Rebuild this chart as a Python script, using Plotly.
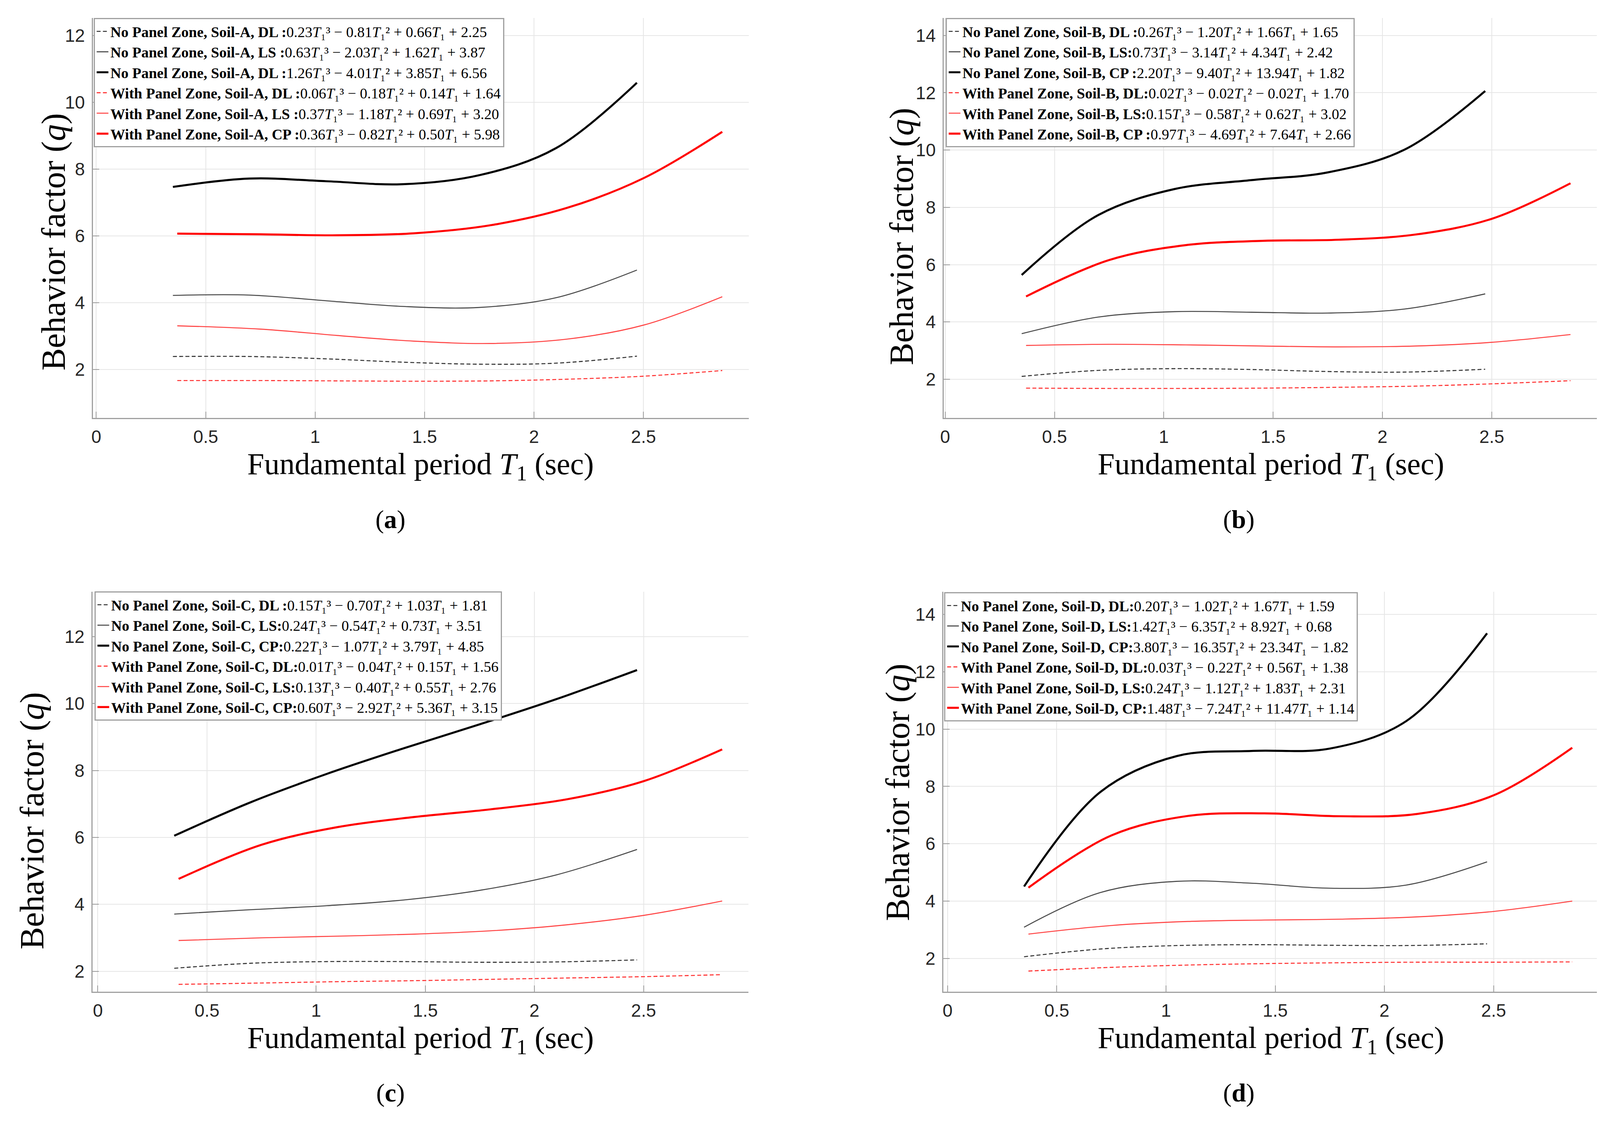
import plotly.graph_objects as go

W, H = 4110, 2870

# Sample periods (sec)
T_NPZ = [0.35, 0.70, 1.05, 1.40, 1.75, 2.10, 2.47]
T_WPZ = [0.37, 0.75, 1.10, 1.45, 1.80, 2.15, 2.50, 2.86]

# Panel (a) Soil-A
A_NPZ_DL = [2.39, 2.39, 2.32, 2.22, 2.16, 2.19, 2.40]
A_NPZ_LS = [4.22, 4.23, 4.06, 3.89, 3.86, 4.15, 4.98]
A_NPZ_CP = [7.47, 7.72, 7.64, 7.55, 7.82, 8.63, 10.59]
A_WPZ_DL = [1.67, 1.67, 1.66, 1.65, 1.66, 1.71, 1.80, 1.97]
A_WPZ_LS = [3.31, 3.21, 3.02, 2.85, 2.78, 2.91, 3.33, 4.18]
A_WPZ_CP = [6.07, 6.05, 6.02, 6.08, 6.32, 6.84, 7.73, 9.12]

# Panel (b) Soil-B
B_NPZ_DL = [2.10, 2.31, 2.37, 2.34, 2.27, 2.25, 2.35]
B_NPZ_LS = [3.59, 4.17, 4.36, 4.34, 4.31, 4.45, 4.98]
B_NPZ_CP = [5.64, 7.73, 8.64, 8.95, 9.22, 10.01, 12.06]
B_WPZ_DL = [1.69, 1.68, 1.68, 1.69, 1.72, 1.76, 1.84, 1.95]
B_WPZ_LS = [3.18, 3.22, 3.20, 3.16, 3.13, 3.16, 3.29, 3.56]
B_WPZ_CP = [4.89, 6.16, 6.68, 6.83, 6.87, 7.05, 7.60, 8.84]

# Panel (c) Soil-C
C_NPZ_DL = [2.09, 2.24, 2.29, 2.29, 2.27, 2.28, 2.34]
C_NPZ_LS = [3.71, 3.84, 3.96, 4.13, 4.42, 4.88, 5.64]
C_NPZ_CP = [6.05, 7.05, 7.90, 8.66, 9.38, 10.13, 11.00]
C_WPZ_DL = [1.61, 1.65, 1.69, 1.72, 1.76, 1.80, 1.84, 1.90]
C_WPZ_LS = [2.92, 3.00, 3.05, 3.11, 3.21, 3.39, 3.67, 4.10]
C_WPZ_CP = [4.76, 5.78, 6.31, 6.61, 6.84, 7.14, 7.68, 8.63]

# Panel (d) Soil-D
D_NPZ_DL = [2.06, 2.33, 2.45, 2.48, 2.46, 2.45, 2.51]
D_NPZ_LS = [3.09, 4.30, 4.69, 4.62, 4.45, 4.56, 5.37]
D_NPZ_CP = [4.51, 7.81, 9.06, 9.24, 9.32, 10.28, 13.34]
D_WPZ_DL = [1.56, 1.69, 1.77, 1.82, 1.85, 1.87, 1.87, 1.88]
D_WPZ_LS = [2.85, 3.15, 3.29, 3.34, 3.37, 3.45, 3.64, 4.00]
D_WPZ_CP = [4.47, 6.29, 6.97, 7.06, 6.96, 7.04, 7.69, 9.35]

T = "<i>T</i>₁"
LABELS_A = [
    "<b>No Panel Zone, Soil-A, DL :</b>0.23" + T + "³ − 0.81" + T + "² + 0.66" + T + " + 2.25",
    "<b>No Panel Zone, Soil-A, LS :</b>0.63" + T + "³ − 2.03" + T + "² + 1.62" + T + " + 3.87",
    "<b>No Panel Zone, Soil-A, DL :</b>1.26" + T + "³ − 4.01" + T + "² + 3.85" + T + " + 6.56",
    "<b>With Panel Zone, Soil-A, DL :</b>0.06" + T + "³ − 0.18" + T + "² + 0.14" + T + " + 1.64",
    "<b>With Panel Zone, Soil-A, LS :</b>0.37" + T + "³ − 1.18" + T + "² + 0.69" + T + " + 3.20",
    "<b>With Panel Zone, Soil-A, CP :</b>0.36" + T + "³ − 0.82" + T + "² + 0.50" + T + " + 5.98",
]
LABELS_B = [
    "<b>No Panel Zone, Soil-B, DL :</b>0.26" + T + "³ − 1.20" + T + "² + 1.66" + T + " + 1.65",
    "<b>No Panel Zone, Soil-B, LS:</b>0.73" + T + "³ − 3.14" + T + "² + 4.34" + T + " + 2.42",
    "<b>No Panel Zone, Soil-B, CP :</b>2.20" + T + "³ − 9.40" + T + "² + 13.94" + T + " + 1.82",
    "<b>With Panel Zone, Soil-B, DL:</b>0.02" + T + "³ − 0.02" + T + "² − 0.02" + T + " + 1.70",
    "<b>With Panel Zone, Soil-B, LS:</b>0.15" + T + "³ − 0.58" + T + "² + 0.62" + T + " + 3.02",
    "<b>With Panel Zone, Soil-B, CP :</b>0.97" + T + "³ − 4.69" + T + "² + 7.64" + T + " + 2.66",
]
LABELS_C = [
    "<b>No Panel Zone, Soil-C, DL :</b>0.15" + T + "³ − 0.70" + T + "² + 1.03" + T + " + 1.81",
    "<b>No Panel Zone, Soil-C, LS:</b>0.24" + T + "³ − 0.54" + T + "² + 0.73" + T + " + 3.51",
    "<b>No Panel Zone, Soil-C, CP:</b>0.22" + T + "³ − 1.07" + T + "² + 3.79" + T + " + 4.85",
    "<b>With Panel Zone, Soil-C, DL:</b>0.01" + T + "³ − 0.04" + T + "² + 0.15" + T + " + 1.56",
    "<b>With Panel Zone, Soil-C, LS:</b>0.13" + T + "³ − 0.40" + T + "² + 0.55" + T + " + 2.76",
    "<b>With Panel Zone, Soil-C, CP:</b>0.60" + T + "³ − 2.92" + T + "² + 5.36" + T + " + 3.15",
]
LABELS_D = [
    "<b>No Panel Zone, Soil-D, DL:</b>0.20" + T + "³ − 1.02" + T + "² + 1.67" + T + " + 1.59",
    "<b>No Panel Zone, Soil-D, LS:</b>1.42" + T + "³ − 6.35" + T + "² + 8.92" + T + " + 0.68",
    "<b>No Panel Zone, Soil-D, CP:</b>3.80" + T + "³ − 16.35" + T + "² + 23.34" + T + " − 1.82",
    "<b>With Panel Zone, Soil-D, DL:</b>0.03" + T + "³ − 0.22" + T + "² + 0.56" + T + " + 1.38",
    "<b>With Panel Zone, Soil-D, LS:</b>0.24" + T + "³ − 1.12" + T + "² + 1.83" + T + " + 2.31",
    "<b>With Panel Zone, Soil-D, CP:</b>1.48" + T + "³ − 7.24" + T + "² + 11.47" + T + " + 1.14",
]

CAPTIONS = ["a", "b", "c", "d"]

STYLES = [
    dict(color="#333333", width=2.6, dash="10px,6px"),
    dict(color="#4a4a4a", width=2.6, dash="solid"),
    dict(color="#000000", width=5.2, dash="solid"),
    dict(color="#ff3030", width=2.6, dash="10px,6px"),
    dict(color="#ff4545", width=2.6, dash="solid"),
    dict(color="#ff0000", width=5.2, dash="solid"),
]

panels = [
    dict(series=[A_NPZ_DL, A_NPZ_LS, A_NPZ_CP, A_WPZ_DL, A_WPZ_LS, A_WPZ_CP], labels=LABELS_A,
         px=(221, 1904), py=(38, 1062), xr=[-0.016, 2.981], yr=[0.55, 12.53],
         leg=(223, 38), ytitle=(120, 611), xtitle=(1062, 1185), cap=(985, 1322)),
    dict(series=[B_NPZ_DL, B_NPZ_LS, B_NPZ_CP, B_WPZ_DL, B_WPZ_LS, B_WPZ_CP], labels=LABELS_B,
         px=(2404, 4084), py=(38, 1062), xr=[-0.007, 2.988], yr=[0.65, 14.61],
         leg=(2409, 38), ytitle=(2296, 597), xtitle=(3244, 1185), cap=(3161, 1322)),
    dict(series=[C_NPZ_DL, C_NPZ_LS, C_NPZ_CP, C_WPZ_DL, C_WPZ_LS, C_WPZ_CP], labels=LABELS_C,
         px=(220, 1903), py=(1507, 2531), xr=[-0.025, 2.98], yr=[1.39, 13.34],
         leg=(225, 1506), ytitle=(65, 2093), xtitle=(1062, 2654), cap=(985, 2790)),
    dict(series=[D_NPZ_DL, D_NPZ_LS, D_NPZ_CP, D_WPZ_DL, D_WPZ_LS, D_WPZ_CP], labels=LABELS_D,
         px=(2403, 4084), py=(1507, 2531), xr=[-0.02, 2.98], yr=[0.84, 14.79],
         leg=(2405, 1508), ytitle=(2286, 2020), xtitle=(3244, 2654), cap=(3161, 2790)),
]

fig = go.Figure()
layout = dict(
    width=W, height=H, margin=dict(l=0, r=0, t=0, b=0),
    paper_bgcolor="white", plot_bgcolor="white", showlegend=True,
    annotations=[],
)

for i, p in enumerate(panels):
    sfx = "" if i == 0 else str(i + 1)
    legname = "legend" + sfx
    for j, ys in enumerate(p["series"]):
        xs = T_NPZ if j < 3 else T_WPZ
        fig.add_trace(go.Scatter(
            x=xs, y=ys, mode="lines", name=p["labels"][j],
            line=dict(shape="spline", smoothing=1.0, **STYLES[j]),
            xaxis="x" + sfx, yaxis="y" + sfx, legend=legname,
            hoverinfo="skip",
        ))
    axcommon = dict(
        showgrid=True, gridcolor="#e6e6e6", gridwidth=2, zeroline=False,
        showline=True, linecolor="#a0a0a0", linewidth=3, mirror=False,
        ticks="inside", ticklen=16, tickwidth=2, tickcolor="#9a9a9a",
        tickfont=dict(family="Liberation Sans", size=46, color="#262626"),
    )
    layout["xaxis" + sfx] = dict(
        axcommon, domain=[p["px"][0] / W, p["px"][1] / W], range=p["xr"],
        tickvals=[0, 0.5, 1, 1.5, 2, 2.5], ticktext=["0", "0.5", "1", "1.5", "2", "2.5"],
        anchor="y" + sfx, ticklabelstandoff=6,
    )
    layout["yaxis" + sfx] = dict(
        axcommon, domain=[1 - p["py"][1] / H, 1 - p["py"][0] / H], range=p["yr"],
        dtick=2, tick0=0, anchor="x" + sfx, ticklabelstandoff=8,
    )
    layout[legname] = dict(
        x=p["leg"][0] / W, y=1 - p["leg"][1] / H, xanchor="left", yanchor="top",
        bgcolor="white", bordercolor="#a0a0a0", borderwidth=3,
        font=dict(family="Liberation Serif", size=38, color="black"),
        tracegroupgap=0, itemclick=False,
    )
    layout["annotations"].append(dict(
        text="Behavior factor (<i>q</i>)", x=p["ytitle"][0] / W, y=1 - p["ytitle"][1] / H,
        xref="paper", yref="paper", xanchor="center", yanchor="middle", textangle=-90,
        showarrow=False, font=dict(family="Liberation Serif", size=86, color="black"),
    ))
    layout["annotations"].append(dict(
        text="Fundamental period <i>T</i><sub>1</sub> (sec)", x=p["xtitle"][0] / W, y=1 - p["xtitle"][1] / H,
        xref="paper", yref="paper", xanchor="center", yanchor="middle",
        showarrow=False, font=dict(family="Liberation Serif", size=78, color="black"),
    ))
    layout["annotations"].append(dict(
        text="(<b>" + CAPTIONS[i] + "</b>)", x=p["cap"][0] / W, y=1 - p["cap"][1] / H,
        xref="paper", yref="paper", xanchor="center", yanchor="middle",
        showarrow=False, font=dict(family="Liberation Serif", size=66, color="black"),
    ))

fig.update_layout(**layout)
fig.write_html("out.html")
